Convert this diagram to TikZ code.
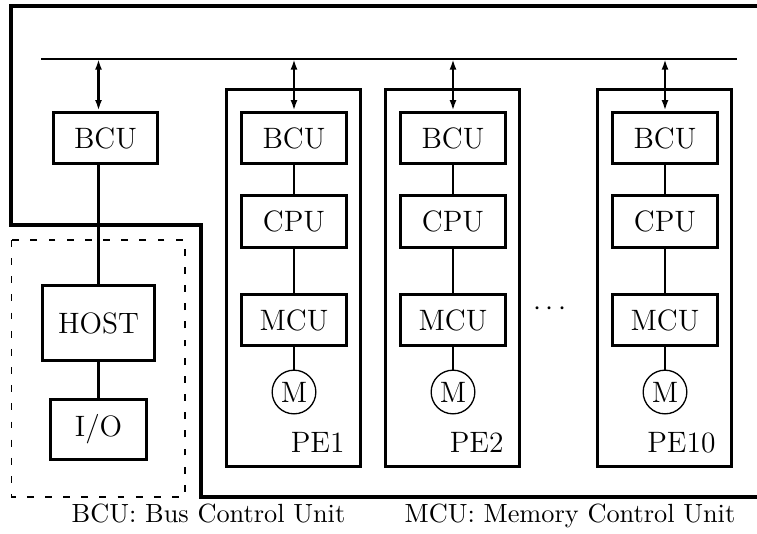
\documentclass[tikz,border=0pt]{standalone}
\usetikzlibrary{arrows.meta}
\begin{document}
\begin{tikzpicture}[x=0.38pt,y=-0.38pt,
  boxfont/.style={font=\fontsize{11.2}{13}\selectfont},
  unit/.style={boxfont,draw,line width=1.25pt,inner sep=0pt,minimum width=39.7pt,minimum height=19.5pt},
  hostbox/.style={boxfont,draw,line width=1.1pt,inner sep=0pt,minimum width=42.7pt,minimum height=28.3pt},
  iobox/.style={boxfont,draw,line width=1.25pt,inner sep=0pt,minimum width=36.6pt,minimum height=22.9pt},
  pebox/.style={draw,line width=1.25pt,inner sep=0pt,minimum width=51pt,minimum height=143.3pt},
  mem/.style={boxfont,draw,circle,line width=0.5pt,inner sep=0pt,minimum size=16.6pt},
  link/.style={line width=0.95pt},
  tap/.style={line width=0.95pt,{Latex[length=4pt,width=2.6pt]}-{Latex[length=4pt,width=2.6pt]}},
  pelabel/.style={boxfont,anchor=base east,inner sep=0pt},
  caption/.style={font=\fontsize{10}{12}\selectfont,anchor=base,inner sep=0pt}]
\useasboundingbox (0,0) rectangle (757,533);

% frame line around the processor array
\draw[line width=1.2pt] (770,6) -- (11,6) -- (11,225) -- (201,225) -- (201,497) -- (770,497);

% system bus
\coordinate (busL) at (41,59);
\coordinate (busR) at (737,59);
\draw[line width=1.05pt] (busL) -- (busR);

% host side
\draw[dash pattern=on 2.6pt off 4.3pt,line width=0.45pt] (11.5,240) rectangle (185,497);
\node[unit] (bh) at (105.5,138) {BCU};
\node[hostbox] (host) at (98.5,323) {HOST};
\node[iobox] (io) at (98.5,429.5) {I/O};
\coordinate (th) at (98.5,59);
\draw[tap] (th) -- (th |- bh.north);
\draw[link] (host.north |- bh.south) -- (host.north);
\draw[link] (host.south) -- (io.north);

% processing elements
\foreach \x/\n/\lx in {294/1/345,453/2/504,665/10/716}{
  \node[pebox] (pe\n) at (\x-0.5,278) {};
  \node[unit] (b\n) at (\x,138) {BCU};
  \node[unit] (c\n) at (\x,221.5) {CPU};
  \node[unit] (m\n) at (\x,320) {MCU};
  \node[mem] (mm\n) at (\x,392) {M};
  \node[pelabel] (lab\n) at (\lx,452) {PE\n};
  \coordinate (t\n) at (\x,59);
  \draw[tap] (t\n) -- (b\n.north);
  \draw[link] (b\n) -- (c\n);
  \draw[link] (c\n) -- (m\n);
  \draw[link] (m\n) -- (mm\n);
}
\node[boxfont,inner sep=0pt] (dots) at (550,309) {$\cdots$};

% legend
\node[caption] (capB) at (208.5,522) {BCU: Bus Control Unit};
\node[caption] (capM) at (570,522) {MCU: Memory Control Unit};
\end{tikzpicture}
\end{document}
